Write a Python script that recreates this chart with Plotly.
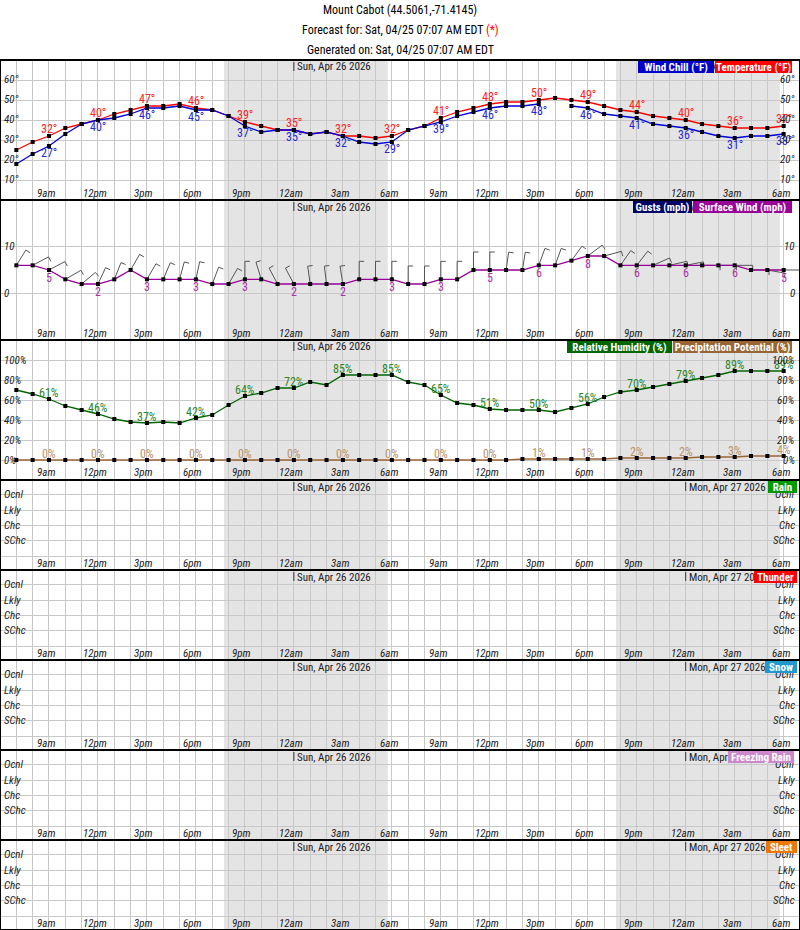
import math
import pandas as pd
import plotly.graph_objects as go

W, H = 800, 930
FONT = "Roboto Condensed, DejaVu Sans Condensed, Liberation Sans Narrow, Liberation Sans, Arial, sans-serif"

# ---------------- data ----------------
START = "2026-04-25 07:00"
N_HOURS = 48
hours = pd.date_range(START, periods=N_HOURS, freq="h")

temperature = [25, 29, 32, 36, 38, 40, 43, 45, 47, 47, 48, 46, 45, 42, 39, 37, 35, 35, 33, 34, 32, 32, 31, 32,
               35, 37, 41, 44, 46, 48, 49, 49, 50, 51, 50, 49, 47, 45, 44, 42, 41, 40, 38, 37, 36, 36, 36, 37]
wind_chill = [18, 23, 27, 33, 38, 40, 41, 43, 46, 46, 47, 45, 45, 42, 37, 34, 35, 35, 33, 34, 32, 29, 28, 29,
              35, 37, 39, 42, 44, 46, 47, 47, 48, None, 47, 46, 43, 42, 41, 38, 37, 36, 34, 32, 31, 32, 32, 33]
surface_wind = [6, 6, 5, 3, 2, 2, 3, 5, 3, 3, 3, 3, 2, 2, 3, 3, 2, 2, 2, 2, 2, 3, 3, 3,
                2, 2, 3, 3, 5, 5, 5, 5, 6, 6, 7, 8, 8, 6, 6, 6, 6, 6, 6, 6, 6, 5, 5, 5]
wind_dir = [32, 62, 62, 60, 50, 25, 22, 30, 30, 23, 15, 12, 21, 30, 0, 343, 332, 332, 352, 353, 351, 0, 0, 0,
            0, 0, 0, 0, 0, 0, 8, 9, 20, 20, 36, 53, 75, 35, 38, 66, 77, 79, 90, 90, 90, 90, 100, 90]
humidity = [70, 66, 61, 54, 50, 46, 41, 38, 37, 38, 37, 42, 45, 55, 64, 67, 72, 72, 78, 75, 85, 85, 85, 85,
            78, 75, 65, 57, 55, 51, 50, 50, 50, 48, 52, 56, 63, 68, 70, 73, 76, 79, 82, 85, 89, 89, 89, 89]
precip_potential = [0, 0, 0, 0, 0, 0, 0, 0, 0, 0, 0, 0, 0, 0, 0, 0, 0, 0, 0, 0, 0, 0, 0, 0,
                    0, 0, 0, 0, 0, 0, 0, 1, 1, 1, 1, 1, 1, 2, 2, 2, 2, 2, 3, 3, 3, 4, 4, 4]

TICK_LABELS = ["9am", "12pm", "3pm", "6pm", "9pm", "12am", "3am", "6am",
               "9am", "12pm", "3pm", "6pm", "9pm", "12am", "3am", "6am"]
LABEL_EVERY = 3
LABEL_FIRST = 2

NIGHTS = [("2026-04-25 19:43", "2026-04-26 05:45"), ("2026-04-26 19:44", "2026-04-27 05:46")]
DAY_LABELS = [("2026-04-26 00:00", "Sun, Apr 26 2026"), ("2026-04-27 00:00", "Mon, Apr 27 2026")]
X_RANGE = ["2026-04-25 06:00", "2026-04-27 07:00"]

WEATHER_CATS = ["Ocnl", "Lkly", "Chc", "SChc"]
WEATHER_VALS = [4, 3, 2, 1]

# ---------------- layout of panels (pixel rows) ----------------
PANELS = [(60, 200), (200, 340), (340, 480), (480, 570), (570, 660), (660, 750), (750, 840), (840, 930)]
YRANGES = [[0, 70], [-10, 20], [-20, 120]] + [[-0.9, 4.96]] * 5
YGRID = [[10, 20, 30, 40, 50, 60], [0, 10], [0, 20, 40, 60, 80, 100]] + [[0, 1, 2, 3, 4]] * 5
YLABELS = [
    ([10, 20, 30, 40, 50, 60], ["10°", "20°", "30°", "40°", "50°", "60°"]),
    ([0, 10], ["0", "10"]),
    ([0, 20, 40, 60, 80, 100], ["0%", "20%", "40%", "60%", "80%", "100%"]),
] + [(WEATHER_VALS, WEATHER_CATS)] * 5

LEGENDS = [
    [("Wind Chill (°F)", "#0000cc", 76), ("Temperature (°F)", "#ff0000", 77)],
    [("Gusts (mph)", "#000066", 59), ("Surface Wind (mph)", "#990099", 99)],
    [("Relative Humidity (%)", "#006600", 105), ("Precipitation Potential (%)", "#996633", 119)],
    [("Rain", "#009900", 29)],
    [("Thunder", "#ff0000", 43)],
    [("Snow", "#2299cc", 32)],
    [("Freezing Rain", "#cc88cc", 66)],
    [("Sleet", "#ee7700", 31)],
]
LEGEND_RIGHT = [792, 792, 792, 797, 797, 797, 794, 797]


def py(px):
    return 1 - px / H


def ax(k, kind):
    return kind if k == 0 else f"{kind}{k + 1}"


fig = go.Figure()
marker = dict(symbol="square", size=4, color="black")

# Panel 1: temperature & wind chill
fig.add_trace(go.Scatter(x=hours, y=temperature, mode="lines+markers", line=dict(color="#ff0000", width=1.3),
                         marker=marker, xaxis="x", yaxis="y", showlegend=False))
fig.add_trace(go.Scatter(x=hours, y=wind_chill, mode="lines+markers", line=dict(color="#0000dd", width=1.3),
                         marker=marker, xaxis="x", yaxis="y", showlegend=False, connectgaps=False))

# Panel 2: wind barbs + surface wind
PX_PER_HOUR = W / ((pd.Timestamp(X_RANGE[1]) - pd.Timestamp(X_RANGE[0])).total_seconds() / 3600)
PX_PER_MPH = (PANELS[1][1] - PANELS[1][0]) / (YRANGES[1][1] - YRANGES[1][0])
STAFF, FLAG = 18, 5
bx, by = [], []
for t, s, d in zip(hours, surface_wind, wind_dir):
    th = math.radians(d)
    tx = t + pd.Timedelta(hours=STAFF * math.sin(th) / PX_PER_HOUR)
    ty = s + STAFF * math.cos(th) / PX_PER_MPH
    fth = math.radians(d + 90)
    fx = tx + pd.Timedelta(hours=FLAG * math.sin(fth) / PX_PER_HOUR)
    fy = ty + FLAG * math.cos(fth) / PX_PER_MPH
    bx += [t, tx, fx, None]
    by += [s, ty, fy, None]
fig.add_trace(go.Scatter(x=bx, y=by, mode="lines", line=dict(color="#555555", width=1),
                         xaxis="x2", yaxis="y2", showlegend=False, hoverinfo="skip"))
fig.add_trace(go.Scatter(x=hours, y=surface_wind, mode="lines+markers", line=dict(color="#990099", width=1.3),
                         marker=marker, xaxis="x2", yaxis="y2", showlegend=False))

# Panel 3: humidity & precip potential
fig.add_trace(go.Scatter(x=hours, y=humidity, mode="lines+markers", line=dict(color="#006600", width=1.3),
                         marker=marker, xaxis="x3", yaxis="y3", showlegend=False))
fig.add_trace(go.Scatter(x=hours, y=precip_potential, mode="lines+markers", line=dict(color="#996633", width=1.3),
                         marker=marker, xaxis="x3", yaxis="y3", showlegend=False))

annotations = []
shapes = []


def value_labels(series, xa, ya, fmt, color, yshift):
    for i in range(LABEL_FIRST, N_HOURS, LABEL_EVERY):
        v = series[i]
        if v is None:
            continue
        annotations.append(dict(x=hours[i], y=v, xref=xa, yref=ya, text=fmt.format(v), showarrow=False,
                                yanchor="middle", yshift=yshift, font=dict(family=FONT, size=12, color=color)))


value_labels(temperature, "x", "y", "{}°", "#ff2222", 7)
value_labels(wind_chill, "x", "y", "{}°", "#2828d0", -7)
value_labels(surface_wind, "x2", "y2", "{}", "#aa33aa", -8)
value_labels(humidity, "x3", "y3", "{}%", "#2a862a", 6)
value_labels(precip_potential, "x3", "y3", "{}%", "#b8916a", 6)

layout_axes = {}
for k, (top, bot) in enumerate(PANELS):
    xa, ya = ax(k, "xaxis"), ax(k, "yaxis")
    xr, yr = ax(k, "x"), ax(k, "y")
    layout_axes[xa] = dict(domain=[0, 1], anchor=yr, range=X_RANGE, type="date", showgrid=True,
                           gridcolor="#c8c8c8", gridwidth=1, tick0=START, dtick=3600000,
                           showticklabels=False, zeroline=False, showline=False, ticks="")
    if k > 0:
        layout_axes[xa]["matches"] = "x"
    layout_axes[ya] = dict(domain=[py(bot), py(top)], anchor=xr, range=YRANGES[k], tickmode="array",
                           tickvals=YGRID[k], showgrid=True, gridcolor="#c8c8c8", gridwidth=1,
                           showticklabels=False, zeroline=False, showline=False, ticks="")
    for j, t in enumerate(hours[LABEL_FIRST::LABEL_EVERY]):
        annotations.append(dict(x=t, y=py(bot - 7), xref=xr, yref="paper", text=f"<i>{TICK_LABELS[j]}</i>",
                                showarrow=False, xshift=-3, yanchor="middle",
                                font=dict(family=FONT, size=11, color="#222222")))
    vals, labs = YLABELS[k]
    for v, lab in zip(vals, labs):
        annotations.append(dict(x=2 / W, y=v, xref="paper", yref=yr, text=f"<i>{lab}</i>", showarrow=False,
                                xanchor="left", yanchor="middle", font=dict(family=FONT, size=11, color="#222222")))
        annotations.append(dict(x=797 / W, y=v, xref="paper", yref=yr, text=f"<i>{lab}</i>", showarrow=False,
                                xanchor="right", yanchor="middle", font=dict(family=FONT, size=11, color="#222222")))
    for dstr, dlab in DAY_LABELS:
        shapes.append(dict(type="line", xref=xr, yref="paper", x0=dstr, x1=dstr, y0=py(top + 2), y1=py(top + 11),
                           line=dict(color="#333333", width=1), layer="above"))
        annotations.append(dict(x=dstr, y=py(top + 7), xref=xr, yref="paper", text=dlab, showarrow=False,
                                xanchor="left", yanchor="middle", xshift=1,
                                font=dict(family=FONT, size=11, color="#222222")))
    shapes.append(dict(type="rect", xref="paper", yref="paper", x0=0, x1=1, y0=py(bot), y1=py(top),
                       line=dict(color="black", width=2), fillcolor="rgba(0,0,0,0)", layer="above"))

for k, (top, bot) in enumerate(PANELS):
    right = LEGEND_RIGHT[k]
    for text, color, w in reversed(LEGENDS[k]):
        annotations.append(dict(x=right / W, y=py(top + 1), xref="paper", yref="paper", text=f"<b>{text}</b>",
                                showarrow=False, xanchor="right", yanchor="top", bgcolor=color, width=w, height=12,
                                borderpad=0, borderwidth=0, align="center",
                                font=dict(family=FONT, size=11, color="white")))
        right = right - w - 1

for s, e in NIGHTS:
    shapes.append(dict(type="rect", xref="x", yref="paper", x0=s, x1=e, y0=0, y1=py(PANELS[0][0]),
                       fillcolor="#e4e4e4", line=dict(width=0), layer="below"))

TITLES = ["Mount Cabot (44.5061,-71.4145)",
          "Forecast for: Sat, 04/25 07:07 AM EDT <span style='color:#ff0000'>(*)</span>",
          "Generated on: Sat, 04/25 07:07 AM EDT"]
for j, ttl in enumerate(TITLES):
    annotations.append(dict(x=0.5, y=py(10 + 20 * j), xref="paper", yref="paper", text=ttl, showarrow=False,
                            xanchor="center", yanchor="middle", font=dict(family=FONT, size=12, color="black")))

fig.update_layout(width=W, height=H, margin=dict(l=0, r=0, t=0, b=0), paper_bgcolor="white",
                  plot_bgcolor="rgba(0,0,0,0)", showlegend=False, annotations=annotations, shapes=shapes,
                  hovermode=False, **layout_axes)

fig.write_html("out.html", config={"displayModeBar": False, "staticPlot": True},
               post_script="document.body.style.margin='0';document.body.style.overflow='hidden';")
